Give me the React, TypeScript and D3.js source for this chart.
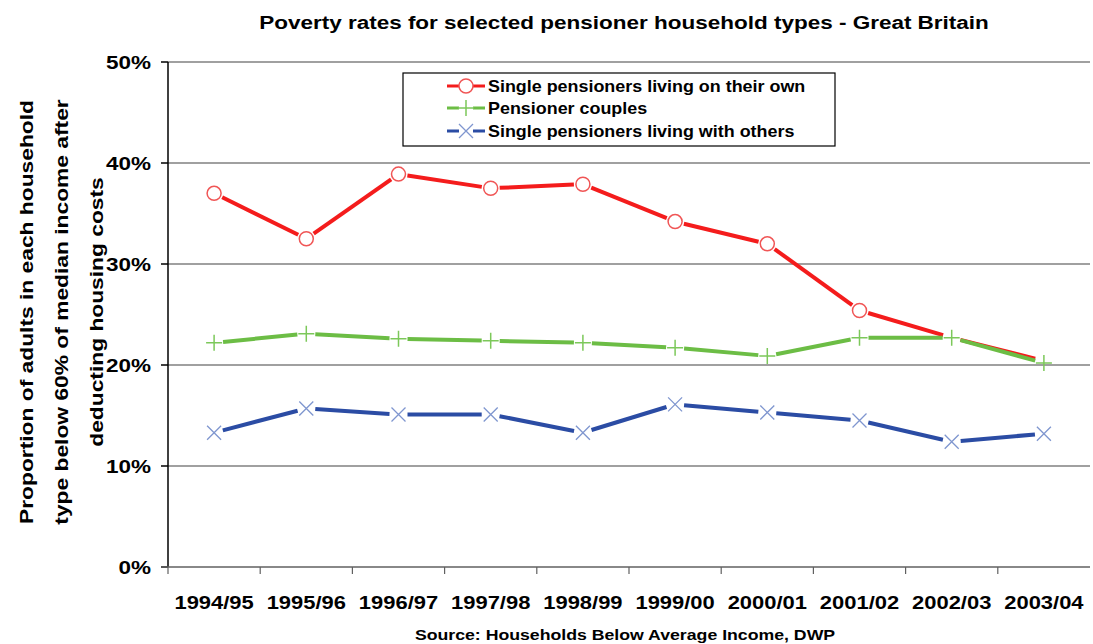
import React from "react";
import * as d3 from "d3";

const categories = ["1994/95","1995/96","1996/97","1997/98","1998/99","1999/00","2000/01","2001/02","2002/03","2003/04"];
const singleOwn = [37.0, 32.5, 38.9, 37.5, 37.9, 34.2, 32.0, 25.4, 22.7, 20.4];
const singleOwnMarkerShown = [true, true, true, true, true, true, true, true, false, false];
const couples = [22.2, 23.1, 22.6, 22.4, 22.2, 21.7, 20.9, 22.7, 22.7, 20.2];
const singleOthers = [13.3, 15.7, 15.1, 15.1, 13.3, 16.1, 15.3, 14.5, 12.4, 13.2];
const yTicks = [0, 10, 20, 30, 40, 50];
const seriesNames = ["Single pensioners living on their own", "Pensioner couples", "Single pensioners living with others"];

const W = 1093, H = 644;
const left = 168, right = 1090, top = 62, bottom = 567;
const FONT = "Arial, 'Liberation Sans', sans-serif";

const series = [
  { name: seriesNames[0], values: singleOwn, shown: singleOwnMarkerShown, color: "#f41c1c", mcolor: "#f05555", marker: "circle" },
  { name: seriesNames[1], values: couples, shown: null as boolean[] | null, color: "#6cbd45", mcolor: "#7cc85a", marker: "plus" },
  { name: seriesNames[2], values: singleOthers, shown: null as boolean[] | null, color: "#2b4ca4", mcolor: "#7f96cf", marker: "x" },
];

function Marker({ type, cx, cy, color }: { type: string; cx: number; cy: number; color: string }) {
  if (type === "circle") return <circle cx={cx} cy={cy} r={7} fill="#fff" stroke={color} strokeWidth={1.5} />;
  if (type === "plus") {
    const s = 8;
    return <path d={`M${cx - s},${cy}H${cx + s}M${cx},${cy - s}V${cy + s}`} stroke={color} strokeWidth={1.5} fill="none" />;
  }
  const s = 7;
  return <path d={`M${cx - s},${cy - s}L${cx + s},${cy + s}M${cx - s},${cy + s}L${cx + s},${cy - s}`} stroke={color} strokeWidth={1.3} fill="none" />;
}

function SText({ x, y, sx, anchor, size, children }: { x: number; y: number; sx: number; anchor?: string; size: number; children: React.ReactNode }) {
  return (
    <text transform={`translate(${x},${y}) scale(${sx},1)`} textAnchor={anchor || "start"} fontSize={size} fontWeight="bold">{children}</text>
  );
}

export default function App() {
  const x = d3.scaleBand<string>().domain(categories).range([left, right]);
  const y = d3.scaleLinear().domain([0, 50]).range([bottom, top]);
  const cx = (c: string) => (x(c) as number) + x.bandwidth() / 2;
  const gap = 9;

  const segs = (vals: number[]) => {
    const out: { x1: number; y1: number; x2: number; y2: number }[] = [];
    for (let i = 0; i < vals.length - 1; i++) {
      const ax = cx(categories[i]), ay = y(vals[i]);
      const bx = cx(categories[i + 1]), by = y(vals[i + 1]);
      const len = Math.hypot(bx - ax, by - ay);
      const ux = (bx - ax) / len, uy = (by - ay) / len;
      out.push({ x1: ax + ux * gap, y1: ay + uy * gap, x2: bx - ux * gap, y2: by - uy * gap });
    }
    return out;
  };

  const legX = 403, legY = 73, legW = 432, legH = 73;
  const rowY = [86, 108, 131];

  return (
    <svg width={W} height={H} style={{ position: "fixed", left: 0, top: 0, background: "#fff" }} fontFamily={FONT}>
      <rect width={W} height={H} fill="#fff" />
      <SText x={624} y={29} sx={1.25} anchor="middle" size={18}>Poverty rates for selected pensioner household types - Great Britain</SText>

      {yTicks.map((t) => (
        <g key={t}>
          {t > 0 && <line x1={left} x2={right} y1={y(t)} y2={y(t)} stroke="#808080" strokeWidth={1.5} />}
          <line x1={left - 7} x2={left} y1={y(t)} y2={y(t)} stroke="#000" strokeWidth={1.5} />
          <SText x={151} y={y(t) + 7} sx={1.25} anchor="end" size={18}>{t}%</SText>
        </g>
      ))}
      <line x1={left} x2={left} y1={top} y2={bottom} stroke="#000" strokeWidth={1.5} />
      <line x1={left - 7} x2={right} y1={bottom} y2={bottom} stroke="#606060" strokeWidth={1.5} />
      {categories.map((c) => (
        <g key={c}>
          <line x1={(x(c) as number)} x2={(x(c) as number)} y1={bottom} y2={bottom + 7} stroke="#606060" strokeWidth={1.2} />
          <SText x={cx(c)} y={609} sx={1.22} anchor="middle" size={18}>{c}</SText>
        </g>
      ))}

      {series.map((s) => (
        <g key={s.name}>
          {segs(s.values).map((g, i) => (
            <line key={i} x1={g.x1} y1={g.y1} x2={g.x2} y2={g.y2} stroke={s.color} strokeWidth={4} />
          ))}
          {s.values.map((v, i) =>
            !s.shown || s.shown[i] ? (
              <Marker key={i} type={s.marker} cx={cx(categories[i])} cy={y(v)} color={s.mcolor} />
            ) : null
          )}
        </g>
      ))}

      <rect x={legX} y={legY} width={legW} height={legH} fill="#fff" stroke="#000" strokeWidth={1.2} />
      {series.map((s, i) => (
        <g key={s.name}>
          <line x1={447} x2={485} y1={rowY[i]} y2={rowY[i]} stroke={s.color} strokeWidth={3} />
          <rect x={459} y={rowY[i] - 6} width={14} height={12} fill="#fff" />
          <Marker type={s.marker} cx={466} cy={rowY[i]} color={s.mcolor} />
          <SText x={488} y={rowY[i] + 6} sx={1.12} size={16}>{s.name}</SText>
        </g>
      ))}

      <g transform="translate(0,312) rotate(-90)">
        <SText x={0} y={33} sx={1.2} anchor="middle" size={19}>Proportion of adults in each household</SText>
        <SText x={0} y={68} sx={1.2} anchor="middle" size={19}>type below 60% of median income after</SText>
        <SText x={0} y={103} sx={1.2} anchor="middle" size={19}>deducting housing costs</SText>
      </g>

      <SText x={625} y={640} sx={1.18} anchor="middle" size={15}>Source: Households Below Average Income, DWP</SText>
    </svg>
  );
}
